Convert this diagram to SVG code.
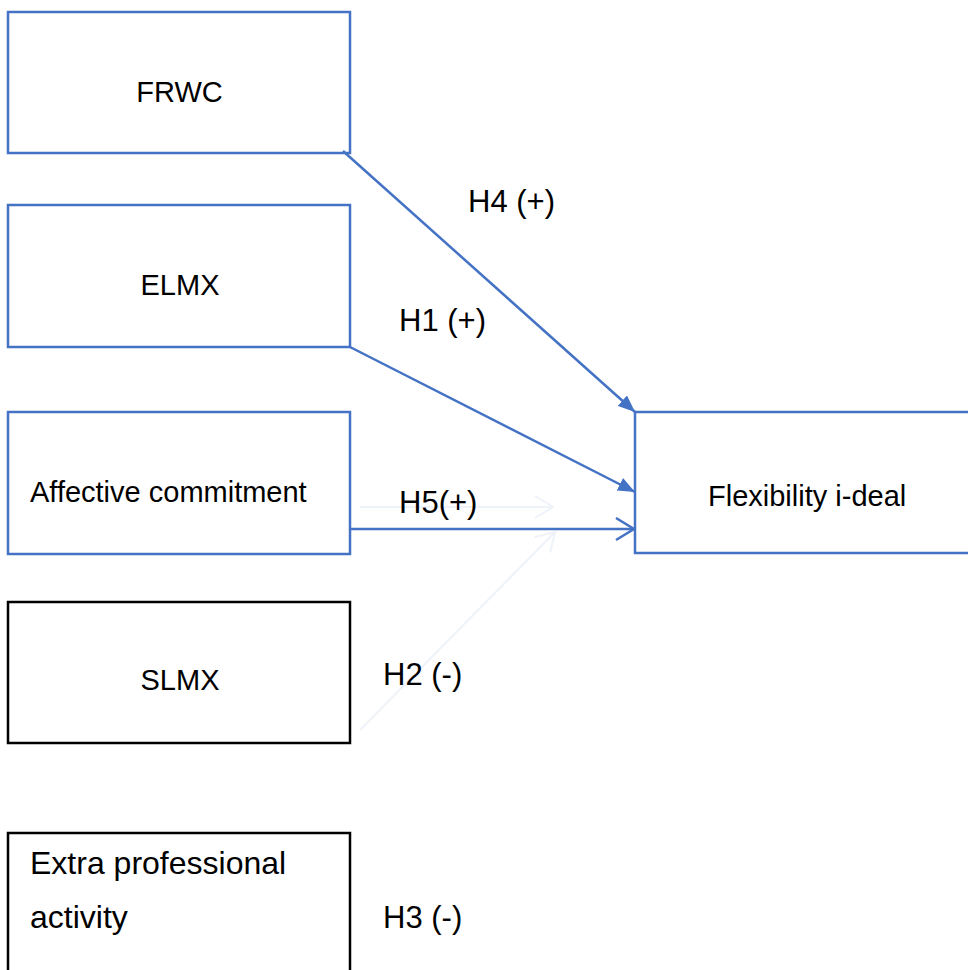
<svg xmlns="http://www.w3.org/2000/svg" width="968" height="970" viewBox="0 0 968 970">
<defs>
<style>
.box{fill:#fff;stroke:#4472C4;stroke-width:2.5}
.bbox{fill:#fff;stroke:#000;stroke-width:2.5}
.t{font-family:"Liberation Sans",Arial,sans-serif;font-size:29px;fill:#000}
.l{font-size:31px}
.x{font-size:32px}
.c{stroke:#4472C4;stroke-width:2.5;fill:none}
.f{stroke:#eef2f9;stroke-width:2;fill:none}
</style>
<marker id="fill" markerUnits="userSpaceOnUse" markerWidth="18" markerHeight="14" refX="17" refY="7" orient="auto">
<path d="M0,0 L17,7 L0,14 Z" fill="#4472C4"/>
</marker>
<marker id="open" markerUnits="userSpaceOnUse" markerWidth="22" markerHeight="26" refX="20" refY="12" orient="auto">
<path d="M2,1 L20,12 L2,23" fill="none" stroke="#4472C4" stroke-width="2.5"/>
</marker>
<marker id="openf" markerUnits="userSpaceOnUse" markerWidth="22" markerHeight="26" refX="20" refY="12" orient="auto">
<path d="M2,1 L20,12 L2,23" fill="none" stroke="#eef2f9" stroke-width="2"/>
</marker>
</defs>
<rect width="968" height="970" fill="#fff"/>
<g id="node-frwc"><rect class="box" x="8" y="12" width="342" height="141"/><text class="t" x="179.5" y="102" text-anchor="middle">FRWC</text></g>
<g id="node-elmx"><rect class="box" x="8" y="205" width="342" height="142"/><text class="t" x="180" y="295" text-anchor="middle">ELMX</text></g>
<g id="node-affective"><rect class="box" x="8" y="412" width="342" height="142"/><text class="t" x="30" y="502">Affective commitment</text></g>
<g id="node-slmx"><rect class="bbox" x="8" y="602" width="342" height="141"/><text class="t" x="180" y="690" text-anchor="middle">SLMX</text></g>
<g id="node-extra"><rect class="bbox" x="8" y="833" width="342" height="160"/><text class="t x" x="30" y="874">Extra professional</text><text class="t x" x="30" y="928">activity</text></g>
<g id="node-flex"><rect class="box" x="635" y="412" width="360" height="141"/><text class="t" x="708" y="506">Flexibility i-deal</text></g>
<g id="connectors">
<line class="f" x1="360" y1="507" x2="553" y2="507" marker-end="url(#openf)"/>
<line class="f" x1="360" y1="730" x2="555" y2="532" marker-end="url(#openf)"/>
<line class="c" x1="343" y1="151" x2="635" y2="412" marker-end="url(#fill)"/>
<line class="c" x1="350" y1="347" x2="635" y2="492" marker-end="url(#fill)"/>
<line class="c" x1="350" y1="529" x2="634" y2="529" marker-end="url(#open)"/>
<text class="t l" x="468" y="212">H4 (+)</text>
<text class="t l" x="399" y="331">H1 (+)</text>
<text class="t l" x="399" y="513">H5(+)</text>
<text class="t l" x="383" y="685">H2 (-)</text>
<text class="t l" x="383" y="928">H3 (-)</text>
</g>
</svg>
